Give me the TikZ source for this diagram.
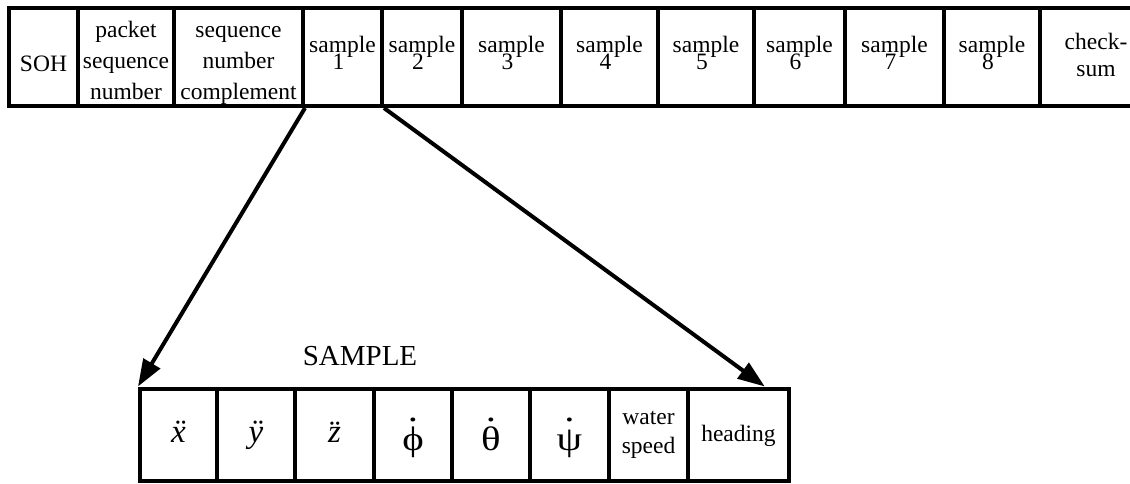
\documentclass[tikz,border=0pt]{standalone}
\usepackage{fontspec}
\setmainfont{Liberation Serif}
\newfontfamily\greekfont[FakeStretch=1.2]{Liberation Serif}
\usetikzlibrary{arrows.meta,calc}
\newcommand\closelines{\lineskiplimit -50pt\relax}
% a glyph with a dot set above it
\newcommand\dotover[2]{\setbox0=\hbox{#1}%
  \rlap{\hbox to\wd0{\hss\raisebox{#2}{.}\hss}}\box0}

\begin{document}
\begin{tikzpicture}[x=1pt,y=-1pt,
  cell/.style={draw, line width=4pt, inner sep=0pt, rectangle, align=center,
    font=\fontsize{23.5}{31}\selectfont},
  % put the last baseline #1 below the cell centre
  base/.style={text height={45pt+(#1)}, text depth={45pt-(#1)}},
  tight/.style={font=\fontsize{23.5}{17}\selectfont\closelines},
  sym/.style={font=\fontsize{33}{35}\selectfont\itshape},
  greek/.style={font=\fontsize{34}{36}\greekfont},
  link/.style={line width=4pt, -{Triangle[length=27pt,width=19pt]}},
  title/.style={font=\fontsize{29}{31}\selectfont}]

\path[use as bounding box, clip] (0,0) rectangle (1130,484);

% packet frame
\node[cell, base=15pt, minimum width=69pt,  minimum height=98pt] (soh) at (43.5,57) {SOH};
\node[cell, base=43pt, minimum width=96pt,  minimum height=98pt] (pkt) at (126,57) {packet\\sequence\\number};
\node[cell, base=43pt, minimum width=129pt, minimum height=98pt] (cmp) at (238.5,57) {sequence\\number\\complement};
\node[cell, tight, base=13pt, minimum width=79pt, minimum height=98pt] (s1) at (342.5,57) {sample\\\hspace*{-8pt}1};
\node[cell, tight, base=13pt, minimum width=80pt, minimum height=98pt] (s2) at (422,57) {sample\\\hspace*{-8pt}2};
\node[cell, tight, base=13pt, minimum width=99pt, minimum height=98pt] (s3) at (511.5,57) {sample\\\hspace*{-8pt}3};
\node[cell, tight, base=13pt, minimum width=97pt, minimum height=98pt] (s4) at (609.5,57) {sample\\\hspace*{-8pt}4};
\node[cell, tight, base=13pt, minimum width=96pt, minimum height=98pt] (s5) at (706,57) {sample\\\hspace*{-8pt}5};
\node[cell, tight, base=13pt, minimum width=91pt, minimum height=98pt] (s6) at (799.5,57) {sample\\\hspace*{-8pt}6};
\node[cell, tight, base=13pt, minimum width=99pt, minimum height=98pt] (s7) at (894.5,57) {sample\\\hspace*{-8pt}7};
\node[cell, tight, base=13pt, minimum width=96pt, minimum height=98pt] (s8) at (992,57) {sample\\\hspace*{-8pt}8};
\node[cell, font=\fontsize{23.5}{27}\selectfont, base=20pt, minimum width=112pt, minimum height=98pt] (cks) at (1096,57) {check-\\sum};

% one sample, expanded
\node[title, anchor=base] (name) at (360,365) {SAMPLE};

\node[cell, sym,   base=8pt,  minimum width=77pt, minimum height=92.5pt] (b1) at (178.5,434.75) {x^^^^0308};
\node[cell, sym,   base=8pt,  minimum width=78pt, minimum height=92.5pt] (b2) at (256,434.75)   {y^^^^0308};
\node[cell, sym,   base=8pt,  minimum width=79pt, minimum height=92.5pt] (b3) at (334.5,434.75) {z^^^^0308};
\node[cell, greek, base=16pt, minimum width=78pt, minimum height=92.5pt] (b4) at (413,434.75)   {\dotover{ϕ}{29pt}};
\node[cell, greek, base=16pt, minimum width=78pt, minimum height=92.5pt] (b5) at (491,434.75)   {\dotover{θ}{29pt}};
\node[cell, greek, base=16pt, minimum width=79pt, minimum height=92.5pt] (b6) at (569.5,434.75) {\dotover{ψ}{29pt}};
\node[cell, font=\fontsize{23.5}{29}\selectfont, base=19pt, minimum width=79pt, minimum height=92.5pt] (b7) at (648.5,434.75) {water\\speed};
\node[cell, base=7pt, minimum width=101pt, minimum height=92.5pt] (b8) at (738.5,434.75) {heading};

% expansion arrows
\draw[link] (cmp.south east) -- (b1.north west);
\draw[link] (s1.south east) -- ($(b8.north west)!0.75!(b8.north east)$);
\end{tikzpicture}
\end{document}
